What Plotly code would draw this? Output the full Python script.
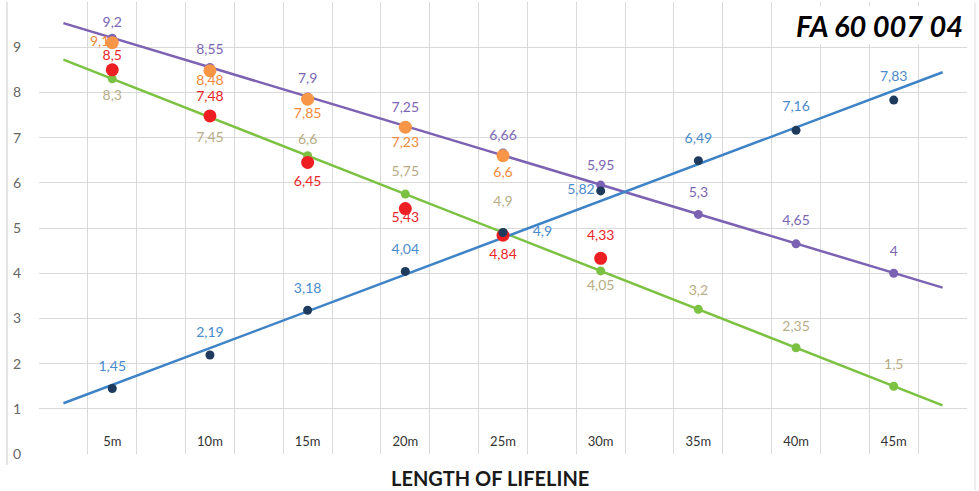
import numpy as np
import plotly.graph_objects as go

# ---------------- data ----------------
lengths = [5, 10, 15, 20, 25, 30, 35, 40, 45]
tick_labels = ["5m", "10m", "15m", "20m", "25m", "30m", "35m", "40m", "45m"]
y_ticks = [0, 1, 2, 3, 4, 5, 6, 7, 8, 9, 10]

blue_vals = [1.45, 2.19, 3.18, 4.04, 4.9, 5.82, 6.49, 7.16, 7.83]
purple_vals = [9.2, 8.55, 7.9, 7.25, 6.66, 5.95, 5.3, 4.65, 4]
green_vals = [8.3, 7.45, 6.6, 5.75, 4.9, 4.05, 3.2, 2.35, 1.5]
orange_vals = [9.1, 8.48, 7.85, 7.23, 6.6]
red_vals = [8.5, 7.48, 6.45, 5.43, 4.84, 4.33]

x_title = "LENGTH OF LIFELINE"
chart_title = "FA 60 007 04"

# ---------------- styles ----------------
FONT = "Lato"
c_blue_line = "#3f83c7"
c_blue_dot = "#1e3a5c"
c_blue_text = "#4b8bcc"
c_purple = "#7c62b2"
c_purple_text = "#7c66b4"
c_green = "#7cc242"
c_green_text = "#b7ad86"
c_orange = "#f79646"
c_orange_text = "#f28a3c"
c_red = "#ee1f23"
c_red_text = "#e8262a"
grid_c = "#d9d9d9"

# label placement (style only)
blue_pos = ["top center"] * 4 + ["middle right", "middle left"] + ["top center"] * 3
blue_off = [21, 22, 20, 20, 46, 8, 21, 23, 23]
purple_pos = ["top center"] * 9
purple_off = [10, 15, 15, 15, 14, 17, 20, 23, 20]
green_pos = ["bottom center", "bottom center", "top center", "top center", "top center",
             "bottom center", "top center", "top center", "top center"]
green_off = [16, 21, 11, 22, 35, 12, 15, 20, 20]
orange_pos = ["middle left", "bottom center", "bottom center", "bottom center", "bottom center"]
orange_off = [3, 5, 12, 13, 15]
red_pos = ["top center", "top center", "bottom center", "bottom center", "bottom center", "top center"]
red_off = [9, 17, 19, 3, 20, 22]


def fmt(v):
    return f"{v:g}".replace(".", ",")


def trend(xs, ys):
    k, b = np.polyfit(xs, ys, 1)
    xe = np.array([xs[0] - 2.5, xs[-1] + 2.5])
    return xe, k * xe + b


fig = go.Figure()

# trendlines
for vals, col in [(green_vals, c_green), (purple_vals, c_purple), (blue_vals, c_blue_line)]:
    xe, ye = trend(np.array(lengths, float), np.array(vals, float))
    fig.add_trace(go.Scatter(x=xe, y=ye, mode="lines", line=dict(color=col, width=2.5),
                             hoverinfo="skip", showlegend=False))


# markers
def marker_trace(xs, vals, col, size):
    return go.Scatter(x=xs, y=vals, mode="markers",
                      marker=dict(color=col, size=size, line=dict(width=0)),
                      hoverinfo="skip", showlegend=False)


fig.add_trace(marker_trace(lengths, green_vals, c_green, 9))
fig.add_trace(marker_trace(lengths, purple_vals, c_purple, 9))
fig.add_trace(marker_trace(lengths[:len(orange_vals)], orange_vals, c_orange, 13))
fig.add_trace(marker_trace(lengths[:len(red_vals)], red_vals, c_red, 13))
fig.add_trace(marker_trace(lengths, blue_vals, c_blue_dot, 9))


# data labels
def label_trace(xs, vals, pos, off, col):
    return go.Scatter(x=xs, y=vals, mode="markers+text",
                      text=[fmt(v) for v in vals], textposition=pos,
                      textfont=dict(family=FONT, size=14, color=col),
                      marker=dict(size=off, color="rgba(0,0,0,0)", line=dict(width=0)),
                      hoverinfo="skip", showlegend=False)


fig.add_trace(label_trace(lengths, green_vals, green_pos, green_off, c_green_text))
fig.add_trace(label_trace(lengths, purple_vals, purple_pos, purple_off, c_purple_text))
fig.add_trace(label_trace(lengths[:len(orange_vals)], orange_vals, orange_pos, orange_off, c_orange_text))
fig.add_trace(label_trace(lengths[:len(red_vals)], red_vals, red_pos, red_off, c_red_text))
fig.add_trace(label_trace(lengths, blue_vals, blue_pos, blue_off, c_blue_text))

# invisible trace to carry the category tick-label axis
fig.add_trace(go.Scatter(x=lengths, y=blue_vals, xaxis="x2", mode="markers",
                         marker=dict(opacity=0), hoverinfo="skip", showlegend=False))

fig.update_layout(
    width=979, height=491,
    margin=dict(l=39, r=12, t=2, b=37, autoexpand=False),
    paper_bgcolor="white", plot_bgcolor="white",
    font=dict(family=FONT),
    hovermode=False,
    xaxis=dict(range=[1.25, 48.75], tickmode="linear", tick0=1.25, dtick=2.5,
               showticklabels=False, showgrid=True, gridcolor=grid_c, gridwidth=1,
               zeroline=False, showline=False, ticks="", automargin=False),
    xaxis2=dict(overlaying="x", anchor="free", position=0.048, side="bottom",
                range=[1.25, 48.75], tickmode="array", tickvals=lengths, ticktext=tick_labels,
                showgrid=False, zeroline=False, showline=False, ticks="", automargin=False,
                tickfont=dict(family=FONT, size=13, color="#333333")),
    yaxis=dict(range=[0, 10], tickmode="array", tickvals=y_ticks,
               showgrid=True, gridcolor=grid_c, gridwidth=1, zeroline=False,
               showline=False, ticks="", ticklabelstandoff=17, automargin=False,
               tickfont=dict(family=FONT, size=14, color="#666666")),
    annotations=[
        dict(text=f"<b>{x_title}</b>", xref="paper", yref="paper", x=0.486, y=-0.053,
             xanchor="center", yanchor="middle", showarrow=False,
             font=dict(family=FONT, size=20, color="#1a1a1a")),
        dict(text=f"<b><i>{chart_title}</i></b>", xref="paper", yref="paper", x=0.906, y=0.947,
             xanchor="center", yanchor="middle", showarrow=False, bgcolor="white",
             font=dict(family=FONT, size=29, color="black")),
    ],
    shapes=[
        dict(type="line", xref="paper", yref="paper", x0=-0.0345, x1=-0.0345, y0=-0.024, y1=1.0,
             line=dict(color="#c8c8c8", width=1)),
        dict(type="line", xref="paper", yref="paper", x0=1.0086, x1=1.0086, y0=-0.08, y1=1.0,
             line=dict(color="#dddddd", width=1)),
    ],
)

fig.write_html("out.html", config={"displayModeBar": False},
               post_script="document.body.style.margin='0';document.body.style.padding='0';")
